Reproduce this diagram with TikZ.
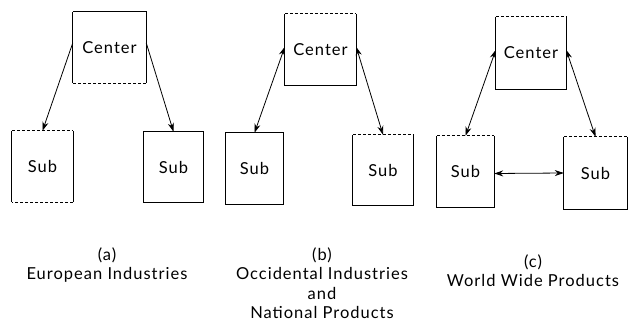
\documentclass[tikz,border=0pt]{standalone}
\usepackage{fontspec}
\setmainfont{Lato}
\newfontfamily\capfont{Lato}[LetterSpace=6]
\usetikzlibrary{arrows.meta}
\begin{document}
\begin{tikzpicture}[x=1pt,y=-1pt,
  box/.style={draw=none,inner sep=0pt,font=\fontsize{16.5}{20}\capfont},
  se/.style={line width=0.9pt},
  de/.style={line width=0.9pt,dash pattern=on 3pt off 2pt},
  link/.style={line width=0.8pt,-{Stealth[length=9pt,width=6pt]}},
  dlink/.style={line width=0.8pt,{Stealth[length=9pt,width=6pt]}-{Stealth[length=9pt,width=6pt]}},
  captext/.style={align=center,inner sep=0pt,font=\fontsize{16.5}{19.5}\capfont}]
\useasboundingbox (0,0) rectangle (629,323);
% nodes
\node[box,minimum width=73,minimum height=71] (ac) at (109.5,47.5) {Center};
\node[box,minimum width=61,minimum height=71] (as1) at (42.5,166.5) {Sub};
\node[box,minimum width=59,minimum height=70] (as2) at (173.5,167) {Sub};
\node[box,minimum width=71,minimum height=71] (bc) at (320.5,49.5) {Center};
\node[box,minimum width=57,minimum height=71] (bs1) at (254.5,168.5) {Sub};
\node[box,minimum width=60,minimum height=70] (bs2) at (383,170) {Sub};
\node[box,minimum width=70,minimum height=72] (cc) at (531,53) {Center};
\node[box,minimum width=57,minimum height=71] (cs1) at (465.5,171.5) {Sub};
\node[box,minimum width=63,minimum height=72] (cs2) at (595.5,173) {Sub};
% box edges (top, right, bottom, left)
\draw[se] (ac.north west) -- (ac.north east) -- (ac.south east);
\draw[de] (ac.south east) -- (ac.south west);
\draw[se] (ac.south west) -- (ac.north west);
\draw[de] (as1.north west) -- (as1.north east);
\draw[se] (as1.north east) -- (as1.south east);
\draw[de] (as1.south east) -- (as1.south west);
\draw[se] (as1.south west) -- (as1.north west);
\draw[se] (as2.north west) -- (as2.north east) -- (as2.south east) -- (as2.south west) -- cycle;
\draw[de] (bc.north west) -- (bc.north east);
\draw[se] (bc.north east) -- (bc.south east) -- (bc.south west) -- (bc.north west);
\draw[se] (bs1.north west) -- (bs1.north east) -- (bs1.south east) -- (bs1.south west) -- cycle;
\draw[de] (bs2.north west) -- (bs2.north east);
\draw[se] (bs2.north east) -- (bs2.south east) -- (bs2.south west) -- (bs2.north west);
\draw[de] (cc.north west) -- (cc.north east);
\draw[se] (cc.north east) -- (cc.south east) -- (cc.south west) -- (cc.north west);
\draw[de] (cs1.north west) -- (cs1.north east);
\draw[se] (cs1.north east) -- (cs1.south east) -- (cs1.south west) -- (cs1.north west);
\draw[de] (cs2.north west) -- (cs2.north east);
\draw[se] (cs2.north east) -- (cs2.south east) -- (cs2.south west) -- (cs2.north west);
% connectors
\draw[link] ([yshift=-31pt]ac.north west) -- (as1.north);
\draw[link] ([yshift=-31pt]ac.north east) -- (as2.north);
\draw[dlink] ([yshift=-33pt]bc.north west) -- (bs1.north);
\draw[dlink] ([yshift=-33pt]bc.north east) -- (bs2.north);
\draw[dlink] ([yshift=-33pt]cc.north west) -- (cs1.north);
\draw[dlink] ([yshift=-33pt]cc.north east) -- (cs2.north);
\draw[dlink] ([yshift=-2pt]cs1.east) -- (cs2.west);
% captions
\node[captext] (capa) at (107,265) {(a)\\European Industries};
\node[captext] (capb) at (322,283) {(b)\\Occidental Industries\\and\\National Products};
\node[captext] (capc) at (533,270.5) {(c)\\World Wide Products};
\end{tikzpicture}
\end{document}
